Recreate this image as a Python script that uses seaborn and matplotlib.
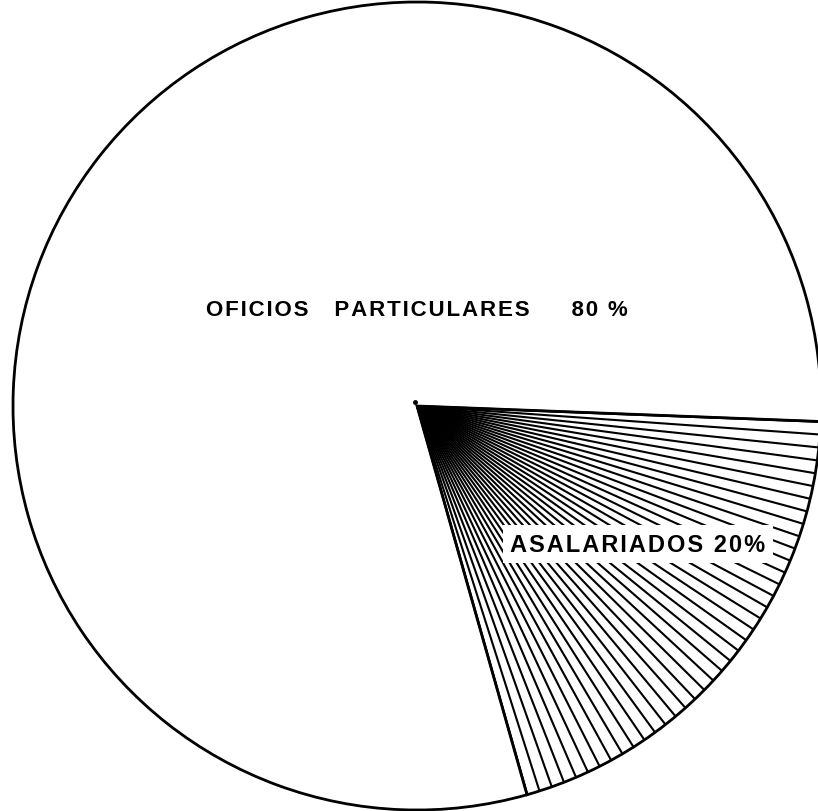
import numpy as np
import matplotlib
matplotlib.use('Agg')
import matplotlib.pyplot as plt
import seaborn as sns

# Datos
categorias = ['ASALARIADOS', 'OFICIOS PARTICULARES']
porcentajes = [20, 80]
etiquetas = ['ASALARIADOS 20%', 'OFICIOS   PARTICULARES     80 %']


def espaciar(texto):
    # espaciado entre letras, como la rotulación a plantilla
    return '\u200a'.join(texto)


def generar_grafico():
    sns.set_style('white')
    plt.rcParams['font.family'] = ['Liberation Sans', 'DejaVu Sans']

    fig = plt.figure(figsize=(8.18, 8.12), dpi=100)
    ax = fig.add_axes([0, 0, 1, 1])

    # Círculo en coordenadas de píxel
    cx, cy, r = 417, 405, 404
    wedges, _ = ax.pie(porcentajes, startangle=-74.2, counterclock=True,
                       center=(cx, cy), radius=r, colors=['white', 'white'],
                       wedgeprops=dict(edgecolor='black', linewidth=2.0))

    # Rayado radial del sector de asalariados
    w = wedges[0]
    angulos = np.deg2rad(np.linspace(w.theta1, w.theta2, 40))
    for a in angulos:
        ax.plot([cx, cx + r * np.cos(a)], [cy, cy + r * np.sin(a)],
                color='black', lw=1.5, zorder=3, solid_capstyle='butt')

    # punto del compás
    ax.plot(cx - 2, cy + 4, 'o', color='black', ms=2.5, zorder=4)

    ax.text(cx, 501, espaciar(etiquetas[1]), ha='center', va='center',
            fontsize=16, fontweight='bold', color='black', zorder=5)
    ax.text(638, 267, espaciar(etiquetas[0]), ha='center', va='center',
            fontsize=17, fontweight='bold', color='black', zorder=5,
            bbox=dict(boxstyle='square,pad=0.3', facecolor='white', edgecolor='none'))

    ax.set_xlim(0, 818)
    ax.set_ylim(0, 812)
    ax.axis('off')

    fig.savefig('out.png', dpi=100, facecolor='white')


if __name__ == "__main__":
    generar_grafico()
